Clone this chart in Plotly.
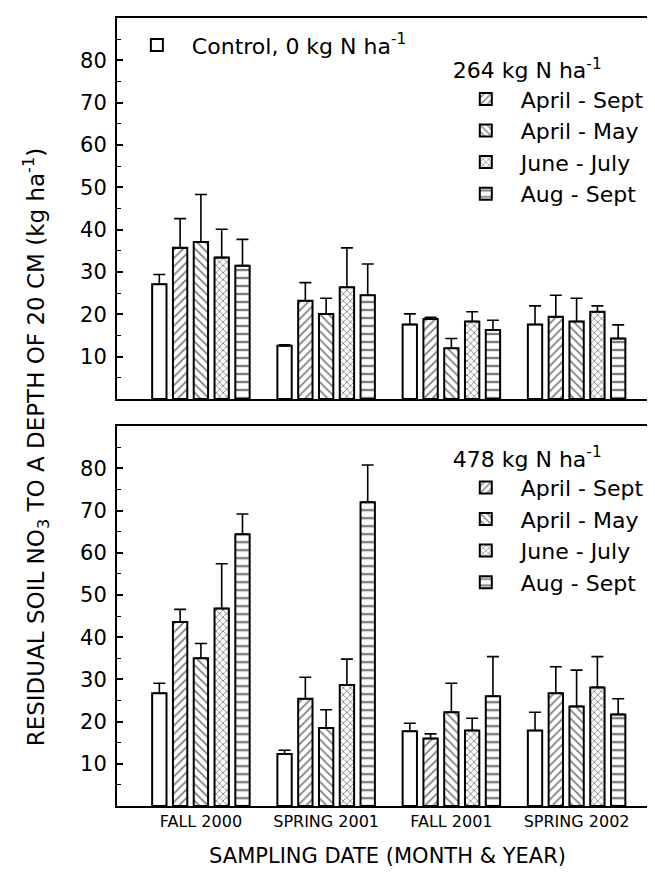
import plotly.graph_objects as go

categories = ["FALL 2000", "SPRING 2001", "FALL 2001", "SPRING 2002"]
series_names = ["April - Sept", "April - May", "June - July", "Aug - Sept"]

# Control (0 kg N/ha)
control_top = [27.1, 12.6, 17.6, 17.6]
control_top_err = [2.3, 0.2, 2.5, 4.4]
control_bot = [26.7, 12.3, 17.7, 17.9]
control_bot_err = [2.4, 0.9, 1.9, 4.3]

# 264 kg N/ha (top panel)
top_as = [35.7, 23.2, 18.9, 19.4]
top_as_err = [6.9, 4.3, 0.4, 5.1]
top_am = [37.1, 20.1, 12.0, 18.3]
top_am_err = [11.2, 3.7, 2.3, 5.5]
top_jj = [33.4, 26.4, 18.3, 20.6]
top_jj_err = [6.7, 9.3, 2.3, 1.4]
top_ag = [31.5, 24.5, 16.3, 14.3]
top_ag_err = [6.2, 7.4, 2.3, 3.2]

# 478 kg N/ha (bottom panel)
bot_as = [43.6, 25.4, 16.0, 26.7]
bot_as_err = [3.0, 5.1, 1.1, 6.3]
bot_am = [35.0, 18.5, 22.2, 23.6]
bot_am_err = [3.5, 4.3, 6.9, 8.6]
bot_jj = [46.8, 28.7, 17.9, 28.1]
bot_jj_err = [10.6, 6.1, 2.9, 7.3]
bot_ag = [64.4, 72.0, 26.0, 21.7]
bot_ag_err = [4.8, 8.8, 9.4, 3.7]

y_ticks = [10, 20, 30, 40, 50, 60, 70, 80]

patterns = ["/", "\\", "x", "-"]
pattern_sizes = [6, 6, 5, 8]

FONT = "DejaVu Sans, Liberation Sans, Arial, sans-serif"

fig = go.Figure()


def add_bar(y, err, name, xa, ya, legend, showlegend, shape, size):
    if shape:
        pattern = dict(shape=shape, size=size, solidity=0.3,
                       fgcolor="black", bgcolor="white")
    else:
        pattern = dict(shape="")
    fig.add_trace(go.Bar(
        x=categories, y=y, name=name, xaxis=xa, yaxis=ya,
        legend=legend, showlegend=showlegend,
        marker=dict(color="white", line=dict(color="black", width=2),
                    pattern=pattern),
        error_y=dict(type="data", symmetric=False, array=err,
                     arrayminus=[0] * len(err), color="black",
                     thickness=1.6, width=6),
    ))


# top panel
add_bar(control_top, control_top_err, "Control, 0 kg N ha<sup>-1</sup>",
        "x", "y", "legend3", True, "", 0)
for vals, errs, nm, sh, sz in zip([top_as, top_am, top_jj, top_ag],
                                  [top_as_err, top_am_err, top_jj_err, top_ag_err],
                                  series_names, patterns, pattern_sizes):
    add_bar(vals, errs, nm, "x", "y", "legend", True, sh, sz)

# bottom panel
add_bar(control_bot, control_bot_err, "Control", "x2", "y2", "legend2",
        False, "", 0)
for vals, errs, nm, sh, sz in zip([bot_as, bot_am, bot_jj, bot_ag],
                                  [bot_as_err, bot_am_err, bot_jj_err, bot_ag_err],
                                  series_names, patterns, pattern_sizes):
    add_bar(vals, errs, nm, "x2", "y2", "legend2", True, sh, sz)

xrange = [-0.67, 3.65]
yaxis_common = dict(range=[0, 90], tickvals=y_ticks,
                    ticks="inside", ticklen=6, tickwidth=1.5, tickcolor="black",
                    ticklabelstandoff=4,
                    showline=True, linecolor="black", linewidth=2, mirror="ticks",
                    showgrid=False, zeroline=False,
                    tickfont=dict(family=FONT, size=21, color="black"),
                    minor=dict(ticks="inside", ticklen=4, tickwidth=1.2,
                               tickcolor="black", dtick=5, showgrid=False))
xaxis_common = dict(range=xrange, showline=True, linecolor="black", linewidth=2,
                    mirror=True, ticks="", showgrid=False, zeroline=False)

legend_common = dict(bgcolor="rgba(0,0,0,0)", borderwidth=0,
                     font=dict(family=FONT, size=22, color="black"),
                     itemclick=False, itemdoubleclick=False, itemwidth=60,
                     traceorder="normal", tracegroupgap=0)

fig.update_layout(
    width=655, height=873,
    margin=dict(l=109, r=3, t=10, b=75),
    paper_bgcolor="white", plot_bgcolor="white",
    barmode="group", bargap=0.17, bargroupgap=0.31,
    font=dict(family=FONT, color="black"),
    xaxis=dict(domain=[0, 1], anchor="y", showticklabels=False, **xaxis_common),
    yaxis=dict(domain=[0.5165, 1], anchor="x", **yaxis_common),
    xaxis2=dict(domain=[0, 1], anchor="y2", showticklabels=True,
                ticklabelstandoff=0,
                tickfont=dict(family=FONT, size=16, color="black"),
                title=dict(text="SAMPLING DATE (MONTH &amp; YEAR)",
                           font=dict(family=FONT, size=21, color="black"),
                           standoff=18),
                **xaxis_common),
    yaxis2=dict(domain=[0, 0.482], anchor="x2", **yaxis_common),
    legend=dict(x=0.617, y=0.96, xanchor="left", yanchor="top",
                title=dict(text="264 kg N ha<sup>-1</sup>",
                           font=dict(family=FONT, size=22, color="black")),
                **legend_common),
    legend2=dict(x=0.617, y=0.467, xanchor="left", yanchor="top",
                 title=dict(text="478 kg N ha<sup>-1</sup>",
                            font=dict(family=FONT, size=22, color="black")),
                 **legend_common),
    legend3=dict(x=0.009, y=0.992, xanchor="left", yanchor="top",
                 **legend_common),
    annotations=[dict(
        text="RESIDUAL SOIL NO<sub>3</sub> TO A DEPTH OF 20 CM (kg ha<sup>-1</sup>)",
        xref="paper", yref="paper", x=-0.15, y=0.455, xanchor="center",
        yanchor="middle", textangle=-90, showarrow=False,
        font=dict(family=FONT, size=23, color="black"))],
)

fig.write_html("out.html")
